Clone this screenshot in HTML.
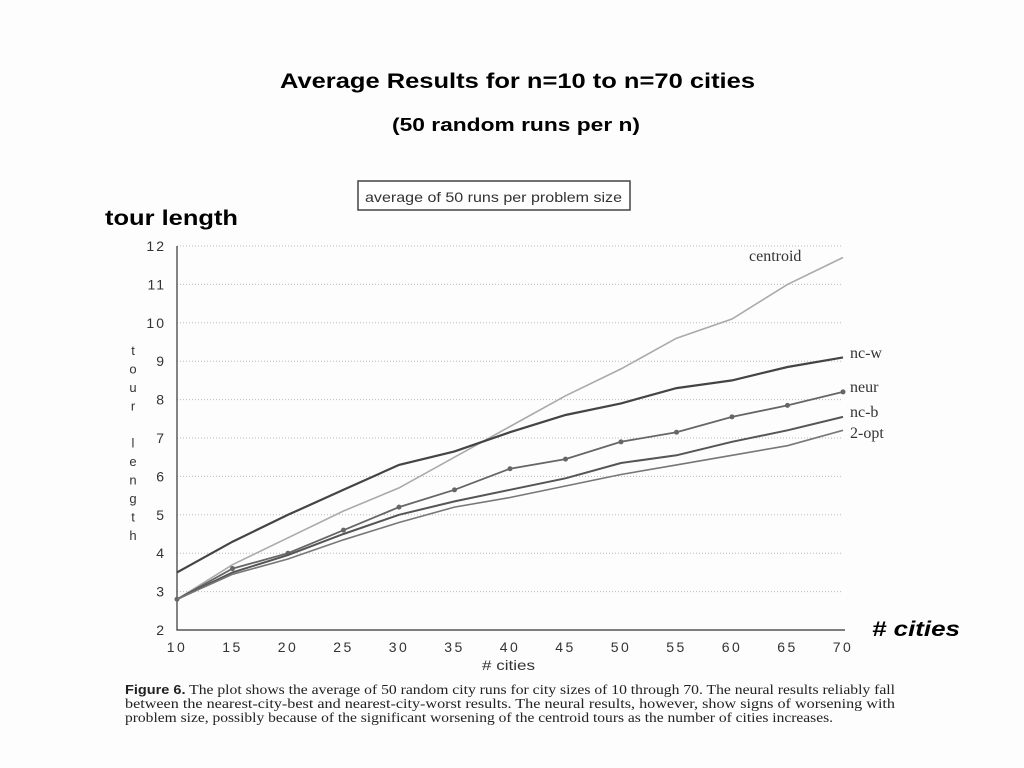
<!DOCTYPE html>
<html><head><meta charset="utf-8"><style>
body{margin:0;width:1024px;height:768px;background:#fff;overflow:hidden;font-family:"Liberation Sans",sans-serif}
svg{position:absolute;left:0;top:0}
</style></head><body>
<svg id="c" width="1024" height="768">
<rect x="0" y="0" width="1024" height="768" fill="#fdfdfd"/>
<text x="280" y="88" font-size="21" font-weight="bold" textLength="475" lengthAdjust="spacingAndGlyphs">Average Results for n=10 to n=70 cities</text>
<text x="392" y="131" font-size="18" font-weight="bold" textLength="248" lengthAdjust="spacingAndGlyphs">(50 random runs per n)</text>
<rect x="358" y="181" width="272" height="29" fill="#fff" stroke="#444" stroke-width="1.5"/>
<text x="365" y="202" font-size="14" fill="#333" textLength="257" lengthAdjust="spacingAndGlyphs">average of 50 runs per problem size</text>
<text x="105" y="225" font-size="21" font-weight="bold" textLength="133" lengthAdjust="spacingAndGlyphs">tour length</text>
<text x="872" y="636" font-size="21" font-weight="bold" font-style="italic" textLength="88" lengthAdjust="spacingAndGlyphs"># cities</text>
<g id="vt" font-size="13" fill="#333" text-anchor="middle"></g>
<text x="482" y="670" font-size="14" fill="#333" textLength="53" lengthAdjust="spacingAndGlyphs"># cities</text>
<g id="grid"></g><g id="axes"></g><g id="series"></g>
<g font-family="Liberation Serif,serif" font-size="14" fill="#222">
<text x="125" y="694" textLength="770" lengthAdjust="spacingAndGlyphs"><tspan font-family="Liberation Sans,sans-serif" font-weight="bold" font-size="13">Figure 6.</tspan>  The plot shows the average of 50 random city runs for city sizes of 10 through 70. The neural results reliably fall</text>
<text x="125" y="708" textLength="770" lengthAdjust="spacingAndGlyphs">between the nearest-city-best and nearest-city-worst results. The neural results, however, show signs of worsening with</text>
<text x="125" y="722" textLength="708" lengthAdjust="spacingAndGlyphs">problem size, possibly because of the significant worsening of the centroid tours as the number of cities increases.</text>
</g>
</svg>
<script>
const xs=[10,15,20,25,30,35,40,45,50,55,60,65,70];
const centroid=[2.8,3.7,4.4,5.1,5.7,6.5,7.3,8.1,8.8,9.6,10.1,11.0,11.7];
const ncw=[3.5,4.3,5.0,5.65,6.3,6.65,7.15,7.6,7.9,8.3,8.5,8.85,9.1];
const neur=[2.8,3.6,4.0,4.6,5.2,5.65,6.2,6.45,6.9,7.15,7.55,7.85,8.2];
const ncb=[2.8,3.5,3.95,4.5,5.0,5.35,5.65,5.95,6.35,6.55,6.9,7.2,7.55];
const opt2=[2.8,3.45,3.85,4.35,4.8,5.2,5.45,5.75,6.05,6.3,6.55,6.8,7.2];
const yTicks=[2,3,4,5,6,7,8,9,10,11,12];
const xTicks=[10,15,20,25,30,35,40,45,50,55,60,65,70];
const NS='http://www.w3.org/2000/svg';
const X=v=>177+(v-10)*(843-177)/60, Y=v=>630-(v-2)*38.4;
function mk(t,a,p){const e=document.createElementNS(NS,t);for(const k in a)e.setAttribute(k,a[k]);(p||document.getElementById('c')).appendChild(e);return e;}
const grid=document.getElementById('grid'),axes=document.getElementById('axes'),ser=document.getElementById('series');
yTicks.forEach(v=>{
 const l=mk('line',{x1:177,x2:843,y1:Y(v),y2:Y(v),stroke:'#bbb','stroke-dasharray':'1 2'},grid);
 
 
 const t=mk('text',{x:166,y:Y(v)+5,'text-anchor':'end','font-size':14,fill:'#333','letter-spacing':'2'},axes);t.textContent=v;
 
 
});
xTicks.forEach(v=>{
 const t=mk('text',{x:X(v),y:652,'text-anchor':'middle','font-size':14,fill:'#333','letter-spacing':'2.5'},axes);t.textContent=v;
 
 
});
const ax=mk('path',{d:`M177 ${Y(12)} V630 H845`,stroke:'#333',fill:'none','stroke-width':1.2},axes);


const vt=document.getElementById('vt');
'tour length'.split('').forEach((ch,i)=>{if(ch===' ')return;const t=mk('text',{x:133,y:355+i*18.5},vt);t.textContent=ch;
 
 });
function line(arr,col,w,name,dots){
 const d=arr.map((v,i)=>(i?'L':'M')+X(xs[i]).toFixed(1)+' '+Y(v).toFixed(1)).join(' ');
 const p=mk('path',{d:d,stroke:col,'stroke-width':w,fill:'none'},ser);
 
 
 if(dots)arr.forEach((v,i)=>{const c=mk('circle',{cx:X(xs[i]),cy:Y(v),r:2.5,fill:col},ser);
  
  });
}
line(centroid,'#aaa',1.6,'series-centroid');
line(ncw,'#444',2.2,'series-nc-w');
line(neur,'#666',1.8,'series-neur',true);
line(ncb,'#555',2,'series-nc-b');
line(opt2,'#777',1.6,'series-2-opt');
[['centroid',749,261,'label-centroid'],['nc-w',850,358,'label-nc-w'],['neur',850,392,'label-neur'],['nc-b',850,417,'label-nc-b'],['2-opt',850,438,'label-2-opt']].forEach(a=>{
 const t=mk('text',{x:a[1],y:a[2],'font-size':16,'font-family':'Liberation Serif,serif',fill:'#333'});t.textContent=a[0];
 
 
});
</script>
</body></html>
